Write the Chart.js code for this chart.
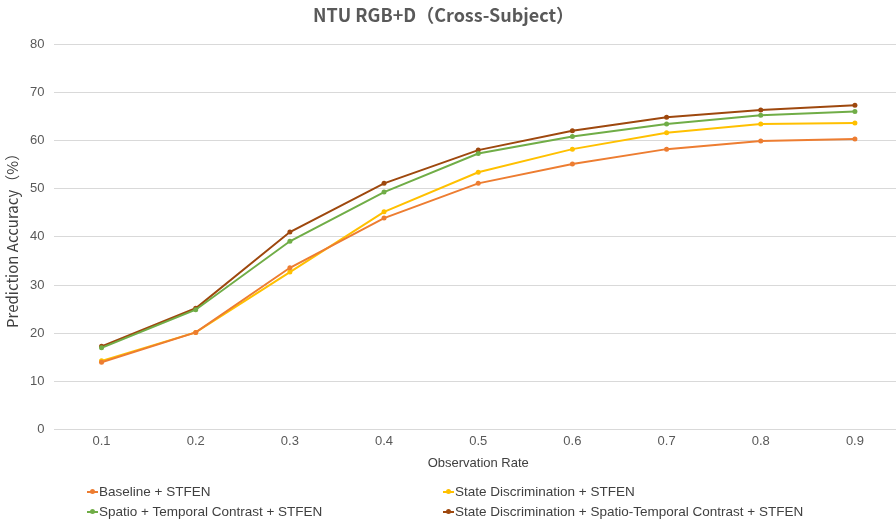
<!DOCTYPE html>
<html>
<head>
<meta charset="utf-8">
<script src="https://cdn.jsdelivr.net/npm/chart.js@4/dist/chart.umd.min.js"></script>
<style>
    body { margin: 0; background: #fff; }
    #wrap { position: relative; width: 896px; height: 523px; overflow: hidden; }
    #title { position: absolute; left: 313px; top: 2px; font-family: "Noto Sans CJK SC", sans-serif; font-weight: bold; font-size: 18px; line-height: 24px; color: #595959; white-space: nowrap; }
    #legend { position: absolute; left: 0; top: 484px; width: 896px; font-family: "Liberation Sans", Arial, sans-serif; font-size: 13.5px; color: #404040; }
    .item { position: absolute; display: flex; align-items: center; white-space: nowrap; }
    .mark { position: relative; width: 11px; height: 2px; margin-right: 1px; }
    .mark i { position: absolute; left: 3px; top: -2px; width: 5px; height: 5px; border-radius: 50%; }
</style>
</head>
<body>
<div id="wrap">
    <canvas id="accChart" width="906" height="523"></canvas>
    <div id="title">NTU RGB+D（Cross-Subject）</div>
    <div id="legend"></div>
</div>
<script>
const rates = ['0.1','0.2','0.3','0.4','0.5','0.6','0.7','0.8','0.9'];
const baseline = [14.0, 20.2, 33.6, 43.9, 51.1, 55.1, 58.2, 59.9, 60.3];
const stateDisc = [14.3, 20.2, 32.7, 45.2, 53.4, 58.2, 61.6, 63.4, 63.6];
const stContrast = [17.0, 24.9, 39.1, 49.3, 57.3, 60.8, 63.4, 65.2, 66.0];
const combined = [17.3, 25.2, 41.0, 51.1, 58.0, 62.0, 64.8, 66.3, 67.3];
const yTicks = [0, 10, 20, 30, 40, 50, 60, 70, 80];

const series = [
    { label: 'Baseline + STFEN', data: baseline, color: '#ED7D31', x: 87, y: 0 },
    { label: 'State Discrimination + STFEN', data: stateDisc, color: '#FFC000', x: 443, y: 0 },
    { label: 'Spatio + Temporal Contrast + STFEN', data: stContrast, color: '#70AD47', x: 87, y: 20 },
    { label: 'State Discrimination + Spatio-Temporal Contrast + STFEN', data: combined, color: '#9E480E', x: 443, y: 20 }
];

const ctx = document.getElementById("accChart").getContext("2d");

new Chart(ctx, {
    type: 'line',
    data: {
        labels: rates,
        datasets: series.map(s => ({
            label: s.label,
            data: s.data,
            borderColor: s.color,
            backgroundColor: s.color,
            borderWidth: 2,
            pointRadius: 2.5,
            pointBorderWidth: 0,
            tension: 0
        }))
    },
    options: {
        responsive: false,
        animation: false,
        layout: { padding: { left: 5, right: 2, top: 44, bottom: 48 } },
        plugins: {
            legend: { display: false },
            tooltip: { enabled: false },
            title: { display: false }
        },
        scales: {
            x: {
                offset: true,
                grid: { display: false, drawTicks: false },
                border: { color: '#d9d9d9' },
                ticks: { color: '#595959', font: { family: 'Liberation Sans', size: 13 }, padding: 4 },
                title: { display: true, text: 'Observation Rate', color: '#404040', font: { family: 'Liberation Sans', size: 13 }, padding: { top: 2 } }
            },
            y: {
                min: 0,
                max: 80,
                afterBuildTicks: axis => { axis.ticks = yTicks.map(v => ({ value: v })); },
                grid: { color: '#d9d9d9', drawTicks: false },
                border: { display: false },
                ticks: { color: '#595959', font: { family: 'Liberation Sans', size: 13 }, padding: 10 },
                title: { display: true, text: 'Prediction Accuracy（%）', color: '#404040', font: { family: 'Noto Sans CJK SC', size: 15, lineHeight: 1 }, padding: 0 }
            }
        }
    }
});

const legendBox = document.getElementById("legend");
series.forEach(s => {
    const el = document.createElement('div');
    el.className = 'item';
    el.style.left = s.x + 'px';
    el.style.top = s.y + 'px';
    el.innerHTML = '<span class="mark" style="background:' + s.color + '"><i style="background:' + s.color + '"></i></span>' + s.label;
    legendBox.appendChild(el);
});
</script>
</body>
</html>
